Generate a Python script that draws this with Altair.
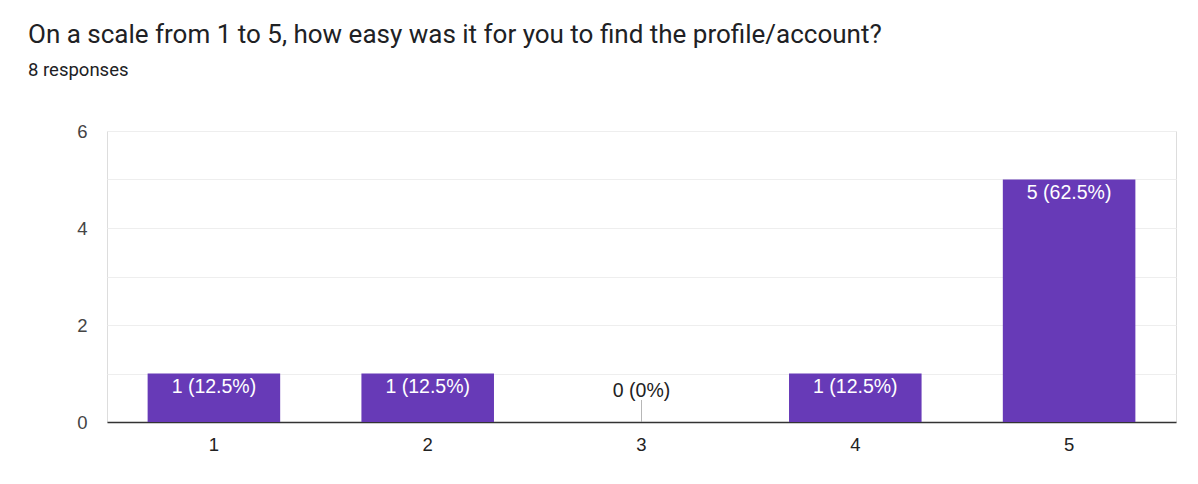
import altair as alt
import pandas as pd

categories = ["1", "2", "3", "4", "5"]
counts = [1, 1, 0, 1, 5]
labels = ["1 (12.5%)", "1 (12.5%)", "0 (0%)", "1 (12.5%)", "5 (62.5%)"]

df = pd.DataFrame({"score": categories, "count": counts, "label": labels})

PURPLE = "#673AB7"
FONT = "Liberation Sans"

x = alt.X("score:N", sort=categories, title=None,
          scale=alt.Scale(paddingInner=0.38, paddingOuter=0.19),
          axis=alt.Axis(labelAngle=0, labelFontSize=18.5, labelColor="#222222",
                        labelFont=FONT, labelPadding=13, ticks=False,
                        domainColor="#333333", domainWidth=1.5, grid=False))
y = alt.Y("count:Q", title=None,
          scale=alt.Scale(domain=[0, 6], nice=False),
          axis=alt.Axis(values=[0, 1, 2, 3, 4, 5, 6],
                        labelExpr="datum.value % 2 == 0 ? datum.label : ''",
                        labelFontSize=18.5, labelColor="#444444", labelFont=FONT,
                        labelPadding=20, ticks=False, domain=False,
                        gridColor="#eeeeee", gridWidth=1))

base = alt.Chart(df).encode(x=x)

bars = base.mark_bar(color=PURPLE).encode(y=y)

inside = base.transform_filter("datum.count > 0").mark_text(
    baseline="top", dy=4, color="white", fontSize=19.5, font=FONT
).encode(y="count:Q", text="label:N")

zero_text = base.transform_filter("datum.count == 0").mark_text(
    baseline="bottom", dy=-21, color="#222222", fontSize=19.5, font=FONT
).encode(y="count:Q", text="label:N")

zero_tick = base.transform_filter("datum.count == 0").mark_tick(
    orient="vertical", size=22, thickness=1, color="#999999", yOffset=-11
).encode(y="count:Q")

chart = alt.layer(bars, inside, zero_tick, zero_text).properties(
    width=1069, height=291,
    autosize=alt.AutoSizeParams(type="none"),
    padding={"left": 107, "top": 131, "right": 22, "bottom": 62},
    title=alt.TitleParams(
        text="On a scale from 1 to 5, how easy was it for you to find the profile/account?",
        subtitle="8 responses",
        anchor="start", frame="group", dx=-79, offset=43,
        font="Roboto", fontSize=26, fontWeight="normal", color="#202124",
        subtitleFont="Roboto", subtitleFontSize=18.5, subtitleColor="#202124",
        subtitlePadding=13,
    ),
).configure_view(stroke="#eeeeee", strokeWidth=1).configure(background="white")

chart.save("out.html", embed_options={"renderer": "svg", "actions": False})
